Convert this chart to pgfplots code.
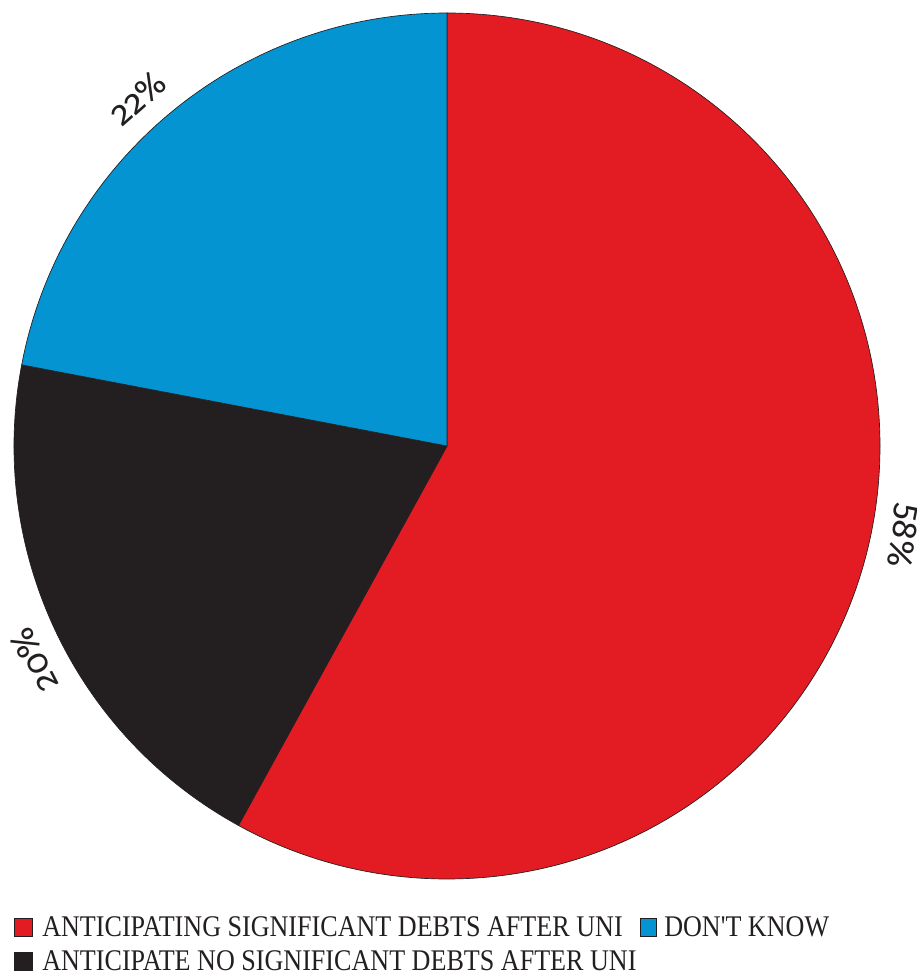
\documentclass[border=0pt]{standalone}
\usepackage{fontspec}
\setmainfont{Liberation Serif}
\newfontfamily\labfont[Numbers=OldStyle]{Fira Sans}
\newfontfamily\legfont[FakeStretch=0.87]{Liberation Serif}
\usepackage{pgfplots}
\pgfplotsset{compat=1.18}
\definecolor{pred}{HTML}{E31B23}
\definecolor{pblk}{HTML}{231F20}
\definecolor{pblue}{HTML}{0494D1}
% data (percent)
\def\vRed{58}
\def\vBlk{20}
\def\vBlue{22}
\begin{document}
\begin{tikzpicture}
\begin{axis}[hide axis, scale only axis, x=0.75pt, y=0.75pt,
  xmin=0, xmax=917, ymin=0, ymax=971, clip=false]
% pie: centre (447,525), radius 433 px = 324.75pt
\fill[pred, draw=pblk, line width=0.5pt] (axis cs:447,525) -- (axis cs:447,958)
  arc[start angle=90, delta angle={-\vRed*3.6}, radius=324.75pt] -- cycle;
\fill[pblk, draw=pblk, line width=0.5pt] (axis cs:447,525) -- ++({90-\vRed*3.6}:324.75pt)
  arc[start angle={90-\vRed*3.6}, delta angle={-\vBlk*3.6}, radius=324.75pt] -- cycle;
\fill[pblue, draw=pblk, line width=0.5pt] (axis cs:447,525) -- ++({90-(\vRed+\vBlk)*3.6}:324.75pt)
  arc[start angle={90-(\vRed+\vBlk)*3.6}, delta angle={-\vBlue*3.6}, radius=324.75pt] -- cycle;
% labels
\node[rotate=-101.2, inner sep=0, font=\labfont\fontsize{26}{28}\selectfont, text=pblk]
  at (axis cs:903,435) {58\%};
\node[rotate=117.4, inner sep=0, font=\labfont\fontsize{26}{28}\selectfont, text=pblk]
  at (axis cs:34,311) {20\%};
\node[rotate=41.6, inner sep=0, font=\labfont\fontsize{26}{28}\selectfont, text=pblk]
  at (axis cs:138,873) {22\%};
% legend
\draw[fill=pred, draw=pblk, line width=0.3pt] (axis cs:14,35) rectangle (axis cs:32,53);
\node[anchor=base west, inner sep=0, font=\legfont\fontsize{22.5}{24}\selectfont, text=pblk]
  at (axis cs:42,35) {ANTICIPATING SIGNIFICANT DEBTS AFTER UNI};
\draw[fill=pblue, draw=pblk, line width=0.3pt] (axis cs:640,35) rectangle (axis cs:656,53);
\node[anchor=base west, inner sep=0, font=\legfont\fontsize{22.5}{24}\selectfont, text=pblk]
  at (axis cs:664,35) {DON'T KNOW};
\draw[fill=pblk, draw=pblk, line width=0.3pt] (axis cs:14,1) rectangle (axis cs:32,19);
\node[anchor=base west, inner sep=0, font=\legfont\fontsize{22.5}{24}\selectfont, text=pblk]
  at (axis cs:42,1) {ANTICIPATE NO SIGNIFICANT DEBTS AFTER UNI};
\end{axis}
\pgfresetboundingbox
\useasboundingbox (0,0) rectangle (687.75pt,728.25pt);
\end{tikzpicture}
\end{document}
